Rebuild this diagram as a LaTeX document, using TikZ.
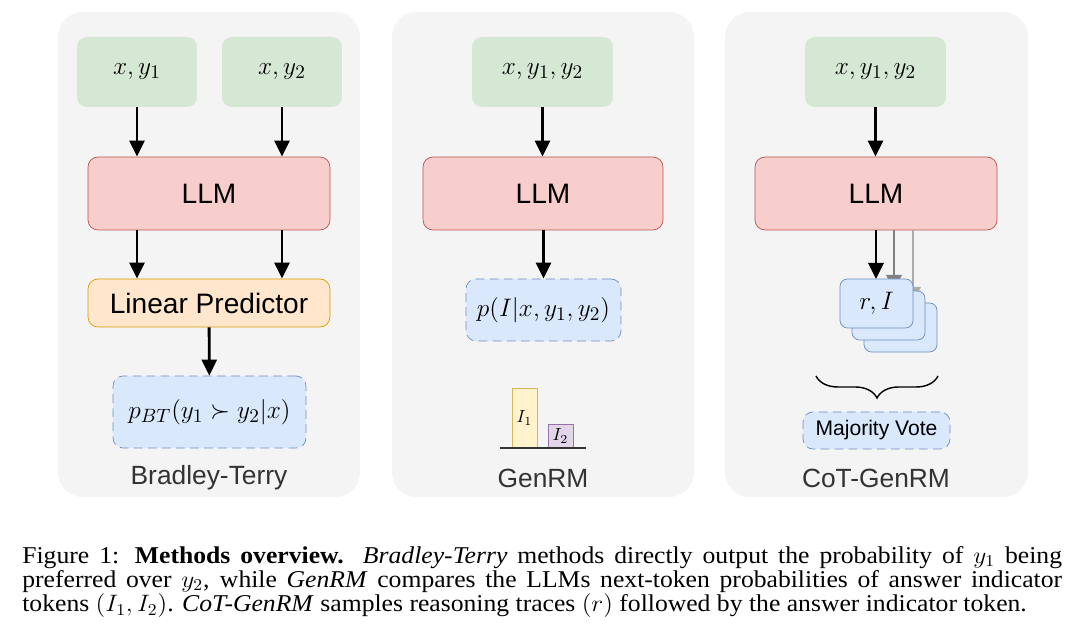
\documentclass[tikz,border=0pt]{standalone}
\usepackage{fontspec}
\usepackage{graphicx}
\usepackage{amsmath}
\usepackage{amssymb}
\usetikzlibrary{shapes, calc, arrows.meta, decorations.pathreplacing}
\setmainfont{Liberation Serif}
\newfontfamily\diagfont{Liberation Sans}
\newcommand{\mathsz}{\fontsize{15}{18}\selectfont}

\begin{document}
\begin{tikzpicture}[x=0.02cm, y=-0.02cm,
	panel/.style={fill=panelgray, rounded corners=0.5cm},
	inbox/.style={fill=ingreen, rounded corners=0.2cm, minimum height=1.4cm, font=\mathsz},
	llmbox/.style={draw=llmred, fill=llmfill, rounded corners=0.2cm, minimum width=4.84cm, minimum height=1.46cm, font=\diagfont\fontsize{16}{19}\selectfont},
	outbox/.style={draw=outblue, fill=outfill, dashed, dash pattern=on 5pt off 3pt, rounded corners=0.2cm, font=\mathsz},
	stackbox/.style={draw=outblue, fill=outfill, rounded corners=0.15cm, minimum width=1.46cm, minimum height=0.98cm, font=\mathsz},
	arr/.style={line width=1.6pt, -{Triangle[length=0.32cm,width=0.3cm]}},
	title/.style={font=\diagfont\fontsize{15}{18}\selectfont, text=titlegray}]
	\definecolor{panelgray}{RGB}{244,244,244}
	\definecolor{ingreen}{RGB}{213,232,212}
	\definecolor{llmred}{RGB}{184,84,80}
	\definecolor{llmfill}{RGB}{248,206,204}
	\definecolor{linorange}{RGB}{215,155,0}
	\definecolor{linfill}{RGB}{255,230,204}
	\definecolor{outblue}{RGB}{108,142,191}
	\definecolor{outfill}{RGB}{218,232,252}
	\definecolor{baryellow}{RGB}{214,182,86}
	\definecolor{baryfill}{RGB}{255,242,204}
	\definecolor{barpurple}{RGB}{150,115,166}
	\definecolor{barpfill}{RGB}{225,213,231}
	\definecolor{titlegray}{RGB}{51,51,51}
	\useasboundingbox[fill=white] (0,0) rectangle (1080,644);
	\fill[panel] (58,12) rectangle (360,497);
	\fill[panel] (392,12) rectangle (694,497);
	\fill[panel] (725,12) rectangle (1028,497);
	% Bradley-Terry
	\node at (137,72) [inbox, minimum width=2.4cm] (xy1) {$x, y_1$};
	\node at (282,72) [inbox, minimum width=2.4cm] (xy2) {$x, y_2$};
	\node at (209,193.5) [llmbox] (llmbt) {LLM};
	\node at (209,303) [draw=linorange, fill=linfill, rounded corners=0.2cm, minimum width=4.84cm, minimum height=0.96cm, font=\diagfont\fontsize{16}{19}\selectfont] (linpred) {Linear Predictor};
	\node at (209.5,412) [outbox, minimum width=3.86cm, minimum height=1.44cm] (pbt) {$p_{BT}(y_1 \succ y_2|x)$};
	\node at (209,478) [title] (tbt) {Bradley-Terry};
	\draw[arr] (xy1) -- (xy1 |- llmbt.north);
	\draw[arr] (xy2) -- (xy2 |- llmbt.north);
	\draw[arr] (llmbt.south -| xy1) -- (linpred.north -| xy1);
	\draw[arr] (llmbt.south -| xy2) -- (linpred.north -| xy2);
	\draw[arr] (linpred) -- (pbt);
	% GenRM
	\node at (542.5,72) [inbox, minimum width=2.82cm] (xyg) {$x, y_1, y_2$};
	\node at (543,193.5) [llmbox, minimum width=4.8cm] (llmg) {LLM};
	\node at (543.5,310) [outbox, minimum width=3.1cm, minimum height=1.24cm] (pi) {$p(I|x, y_1, y_2)$};
	\node at (524.5,418) [draw=baryellow, fill=baryfill, minimum width=0.5cm, minimum height=1.2cm, inner sep=0pt] (bari1) {$I_1$};
	\node at (560.5,436) [draw=barpurple, fill=barpfill, minimum width=0.5cm, minimum height=0.48cm, inner sep=0pt] (bari2) {$I_2$};
	\coordinate (axl) at (500,448);
	\coordinate (axr) at (586,448);
	\draw[line width=1pt, titlegray] (axl) -- (axr);
	\node at (543,478) [title] (tg) {GenRM};
	\draw[arr] (xyg) -- (xyg |- llmg.north);
	\draw[arr] (llmg.south -| pi) -- (pi);
	% CoT-GenRM
	\node at (875.5,72) [inbox, minimum width=2.82cm] (xyc) {$x, y_1, y_2$};
	\node at (876,193.5) [llmbox] (llmc) {LLM};
	\coordinate (s1) at (876,279);
	\coordinate (s2) at (894,291);
	\coordinate (s3) at (913,303);
	\draw[arr, gray!65] (llmc.south -| s3) -- (s3);
	\draw[arr, gray] (llmc.south -| s2) -- (s2);
	\draw[arr] (llmc.south -| s1) -- (s1);
	\node at (900.5,327.5) [stackbox] (ri3) {};
	\node at (888.5,315.5) [stackbox] (ri2) {};
	\node at (876.5,303.5) [stackbox] (ri1) {$r, I$};
	\coordinate (brl) at (816,376);
	\coordinate (brr) at (938,376);
	\draw[decorate, decoration={brace, amplitude=0.44cm, mirror}, line width=0.8pt] (brl) -- (brr);
	\node at (876.5,430.5) [outbox, minimum width=2.94cm, minimum height=0.74cm, font=\diagfont\fontsize{12}{14}\selectfont] (vote) {Majority Vote};
	\node at (876,478) [title] (tc) {CoT-GenRM};
	\draw[arr] (xyc) -- (xyc |- llmc.north);
	% caption
	\node at (22,546) [anchor=north west, inner sep=0pt] (cap) {\scalebox{1}[0.94]{\parbox{20.8cm}{\fontsize{14.6}{13.4}\selectfont Figure 1: \textbf{Methods overview.} \textit{Bradley-Terry} methods directly output the probability of $y_1$ being\linebreak preferred over $y_2$, while \textit{GenRM} compares the LLMs next-token probabilities of answer indicator\linebreak tokens $(I_1, I_2)$. \textit{CoT-GenRM} samples reasoning traces $(r)$ followed by the answer indicator token.}}};
\end{tikzpicture}
\end{document}
